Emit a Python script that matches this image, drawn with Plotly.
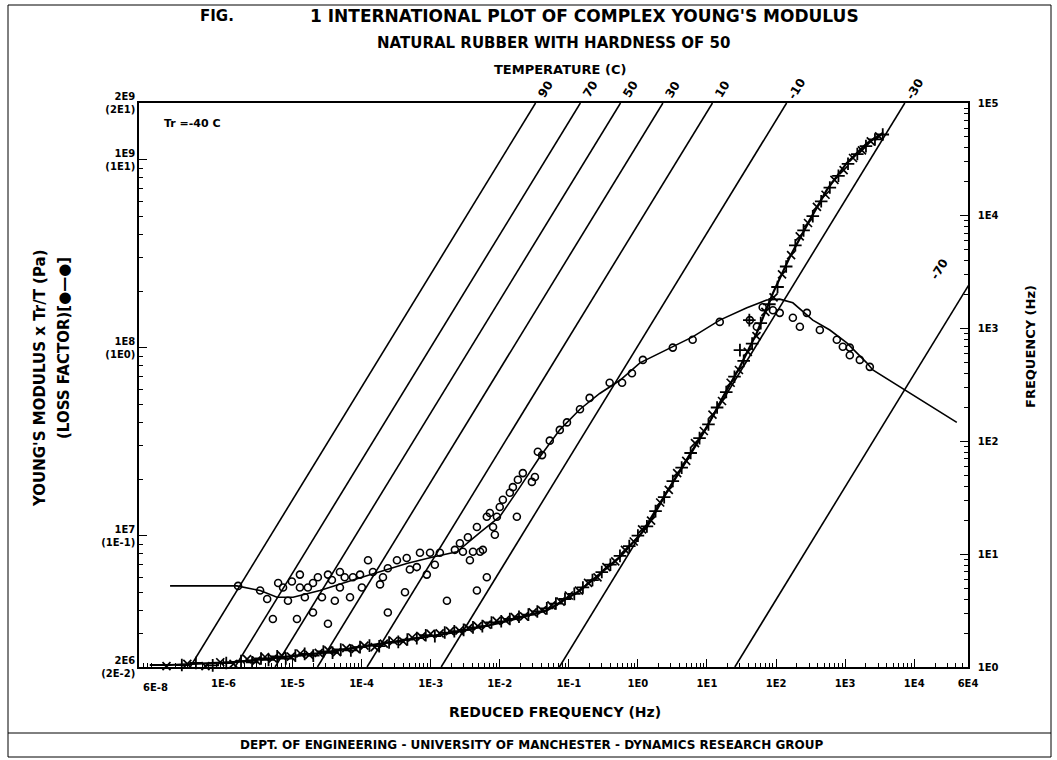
import numpy as np
import plotly.graph_objects as go

# ---------------- data ----------------
# isotherms of the nomogram: shift factor aT (reduced frequency at 1 Hz)
temp_labels = ["90", "70", "50", "30", "10", "-10", "-30", "-70"]
shift_aT = [3.3e-7, 1.47e-6, 5.6e-6, 2.3e-5, 1.2e-4, 1.42e-3, 7.3e-2, 25.3]
freq_limits = [1.0, 1.0e5]

# Young's modulus fitted curve
mod_fit_fr = [8.6e-8, 1.7e-7, 1.6e-6, 6.6e-6, 2.5e-5, 1.46e-4, 7.7e-4, 2.4e-3, 1.0e-2,
              4.8e-2, 0.145, 0.55, 1.35, 2.6, 5.1, 10, 17, 30, 52.7, 90, 158, 308, 543,
              1057, 2056, 3508]
mod_fit_E = [2.05e6, 2.05e6, 2.13e6, 2.26e6, 2.37e6, 2.62e6, 2.89e6, 3.07e6, 3.43e6,
             4.0e6, 5.1e6, 7.7e6, 1.11e7, 1.69e7, 2.52e7, 3.78e7, 5.46e7, 7.9e7, 1.2e8,
             1.95e8, 3.03e8, 4.78e8, 6.9e8, 9.6e8, 1.22e9, 1.38e9]

# Young's modulus measured points (first set, '+')
mod_pts_fr = [1.2e-7, 2.5e-7, 4e-7, 7e-7, 1.1e-6, 1.8e-6, 2.6e-6, 3.5e-6, 4.5e-6, 6e-6,
              8e-6, 1.1e-5, 1.5e-5, 2e-5, 2.8e-5, 3.8e-5, 5e-5, 7e-5, 9.5e-5, 1.3e-4,
              1.8e-4, 2.5e-4, 3.4e-4, 4.6e-4, 6.3e-4, 8.5e-4, 1.15e-3, 1.6e-3, 2.2e-3,
              3e-3, 4.1e-3, 5.6e-3, 7.6e-3, 1.05e-2, 1.4e-2, 1.9e-2, 2.6e-2, 3.5e-2,
              4.8e-2, 6.5e-2, 8.8e-2, 0.12, 0.16, 0.22, 0.3, 0.4, 0.55, 0.75, 1.0, 1.35,
              1.8, 2.4, 3.2, 4.3, 5.8, 7.8, 10.5, 14, 19, 25, 34, 45, 60, 80, 105, 140,
              190, 250, 340, 450, 600, 800, 1100, 1500, 2000, 2700, 3500, 41, 30]
mod_pts_E = [2.0e6, 2.05e6, 2.1e6, 2.04e6, 2.1e6, 2.15e6, 2.12e6, 2.22e6, 2.18e6, 2.28e6,
             2.22e6, 2.3e6, 2.35e6, 2.3e6, 2.42e6, 2.38e6, 2.48e6, 2.45e6, 2.55e6, 2.6e6,
             2.58e6, 2.7e6, 2.72e6, 2.8e6, 2.85e6, 2.95e6, 2.92e6, 3.05e6, 3.1e6,
             3.15e6, 3.25e6, 3.3e6, 3.45e6, 3.5e6, 3.6e6, 3.7e6, 3.8e6, 3.95e6,
             4.1e6, 4.35e6, 4.6e6, 4.9e6, 5.3e6, 5.8e6, 6.4e6, 7.0e6, 7.8e6, 8.8e6, 1.0e7,
             1.12e7, 1.35e7, 1.6e7, 1.95e7, 2.3e7, 2.75e7, 3.3e7, 3.9e7, 4.8e7, 5.8e7,
             7.0e7, 8.5e7, 1.05e8, 1.35e8, 1.7e8, 2.1e8, 2.7e8, 3.5e8, 4.2e8, 5.0e8, 6.0e8,
             7.1e8, 8.2e8, 9.5e8, 1.07e9, 1.18e9, 1.28e9, 1.36e9, 1.4e8, 9.7e7]

# Young's modulus measured points (second set, 'x')
mod_pts2_fr = [1.5e-7, 3e-7, 5.5e-7, 9e-7, 1.4e-6, 2.2e-6, 3e-6, 4e-6, 5.2e-6, 7e-6,
               9.5e-6, 1.3e-5, 1.75e-5, 2.4e-5, 3.3e-5, 4.4e-5, 6e-5, 8.2e-5, 1.1e-4,
               1.55e-4, 2.1e-4, 2.9e-4, 4e-4, 5.4e-4, 7.3e-4, 1.0e-3, 1.35e-3, 1.9e-3,
               2.6e-3, 3.5e-3, 4.8e-3, 6.5e-3, 9e-3, 1.2e-2, 1.65e-2, 2.25e-2, 3e-2,
               4.1e-2, 5.6e-2, 7.6e-2, 0.1, 0.14, 0.19, 0.26, 0.35, 0.47, 0.65, 0.87,
               1.15, 1.55, 2.1, 2.8, 3.7, 5, 6.7, 9, 12, 16.5, 22, 29, 39, 52, 70, 92,
               122, 165, 220, 290, 390, 520, 700, 950, 1300, 1750, 2350, 3100]
mod_pts2_E = [2.02e6, 2.08e6, 2.02e6, 2.12e6, 2.08e6, 2.2e6, 2.16e6, 2.26e6, 2.22e6,
              2.3e6, 2.27e6, 2.36e6, 2.32e6, 2.38e6, 2.45e6, 2.4e6, 2.52e6, 2.5e6, 2.6e6,
              2.55e6, 2.66e6, 2.75e6, 2.74e6, 2.87e6, 2.9e6, 3.0e6, 3.02e6, 3.1e6,
              3.12e6, 3.22e6, 3.3e6, 3.36e6, 3.52e6, 3.55e6, 3.68e6, 3.72e6, 3.9e6,
              4.0e6, 4.25e6, 4.45e6, 4.8e6, 5.1e6, 5.6e6, 6.0e6, 6.8e6, 7.3e6, 8.4e6,
              9.3e6, 1.08e7, 1.2e7, 1.5e7, 1.75e7, 2.15e7, 2.5e7, 3.1e7, 3.6e7, 4.4e7,
              5.2e7, 6.5e7, 7.6e7, 9.5e7, 1.15e8, 1.55e8, 1.85e8, 2.45e8, 3.1e8, 3.9e8,
              4.6e8, 5.6e8, 6.5e8, 7.8e8, 8.8e8, 1.02e9, 1.12e9, 1.25e9, 1.33e9]

# loss factor fitted curve
loss_fit_fr = [1.69e-7, 1.57e-6, 3.4e-6, 5.96e-6, 1.02e-5, 2.49e-5, 7.5e-5, 1.85e-4,
               4.5e-4, 1.08e-3, 2.4e-3, 5.2e-3, 1.0e-2, 1.96e-2, 3.8e-2, 7.4e-2, 0.145,
               0.28, 0.55, 1.07, 2.6, 6.2, 15.3, 37.8, 73, 113, 175, 340, 600, 1057, 2056,
               2512, 41300]
loss_fit_eta = [0.054, 0.054, 0.051, 0.047, 0.047, 0.051, 0.058, 0.064, 0.071, 0.077,
                0.082, 0.104, 0.126, 0.181, 0.262, 0.365, 0.47, 0.57, 0.67, 0.83, 0.97,
                1.14, 1.40, 1.63, 1.79, 1.81, 1.73, 1.40, 1.24, 1.06, 0.83, 0.76, 0.40]

# loss factor measured points
loss_pts_fr = [1.63e-6, 3.4e-6, 4.3e-6, 5.2e-6, 6.2e-6, 7.3e-6, 8.6e-6, 9.8e-6, 1.16e-5,
               1.28e-5, 1.28e-5, 1.51e-5, 1.67e-5, 1.98e-5, 1.98e-5, 2.33e-5, 2.67e-5,
               3.26e-5, 3.26e-5, 3.72e-5, 4.1e-5, 4.86e-5, 4.86e-5, 5.7e-5, 6.8e-5, 7.5e-5,
               9.5e-5, 1.01e-4, 1.24e-4, 1.46e-4, 1.85e-4, 2.04e-4, 2.4e-4, 2.4e-4, 3.25e-4,
               4.25e-4, 4.5e-4, 5.0e-4, 6.3e-4, 7.0e-4, 8.8e-4, 9.8e-4, 1.15e-3, 1.36e-3,
               1.72e-3, 2.24e-3, 2.65e-3, 2.93e-3, 3.46e-3, 3.7e-3, 4.1e-3, 4.67e-3,
               4.67e-3, 5.2e-3, 6.5e-3, 6.5e-3, 7.2e-3, 8.5e-3, 9.1e-3, 8.0e-3, 5.7e-3,
               0.01, 0.0111, 0.014, 0.0155, 0.0177, 0.0183, 0.0216, 0.0292, 0.0323, 0.0356,
               0.041, 0.053, 0.074, 0.094, 0.145, 0.20, 0.39, 0.59, 0.82, 1.18, 3.2, 6.2,
               15.3, 41.7, 52.7, 64, 90, 113, 175, 221, 279, 430, 757, 925, 1167, 1167,
               1630, 2275]
loss_pts_eta = [0.054, 0.051, 0.046, 0.036, 0.056, 0.053, 0.045, 0.057, 0.036, 0.062,
                0.053, 0.047, 0.053, 0.056, 0.039, 0.060, 0.047, 0.034, 0.062, 0.058,
                0.045, 0.064, 0.053, 0.060, 0.047, 0.060, 0.062, 0.053, 0.074, 0.064,
                0.055, 0.060, 0.067, 0.039, 0.074, 0.050, 0.076, 0.066, 0.068, 0.081,
                0.062, 0.081, 0.070, 0.081, 0.045, 0.084, 0.091, 0.082, 0.098, 0.074,
                0.082, 0.051, 0.111, 0.082, 0.060, 0.126, 0.132, 0.101, 0.126, 0.111,
                0.084, 0.142, 0.155, 0.169, 0.181, 0.126, 0.198, 0.215, 0.193, 0.205,
                0.279, 0.268, 0.32, 0.365, 0.40, 0.47, 0.54, 0.65, 0.65, 0.73, 0.86, 1.00,
                1.10, 1.37, 1.40, 1.29, 1.64, 1.58, 1.53, 1.44, 1.29, 1.53, 1.24, 1.10,
                1.01, 1.00, 0.91, 0.86, 0.79]

x_tickvals = [6e-8, 1e-6, 1e-5, 1e-4, 1e-3, 1e-2, 1e-1, 1, 10, 100, 1e3, 1e4, 6e4]
x_ticktext = ["", "1E-6", "1E-5", "1E-4", "1E-3", "1E-2", "1E-1", "1E0", "1E1",
              "1E2", "1E3", "1E4", "6E4"]
x_first_label = "6E-8"
y_tickvals = [2e6, 1e7, 1e8, 1e9, 2e9]
y_ticktext = ["<b>2E6<br>(2E-2)</b>", "<b>1E7<br>(1E-1)</b>", "<b>1E8<br>(1E0)</b>",
              "<b>1E9<br>(1E1)</b>", "<b>2E9<br>(2E1)</b>"]
f_tickvals = [1, 10, 100, 1e3, 1e4, 1e5]
f_ticktext = ["1E0", "1E1", "1E2", "1E3", "1E4", "1E5"]

# ---------------- layout geometry ----------------
W, H = 1057, 760
L, R, T, B = 139, 968, 103, 667
FONT = "DejaVu Sans"


def px(x):
    return (x - L) / (R - L)


def py(y):
    return (B - y) / (B - T)


def minor_vals(lo, hi):
    out = []
    for e in range(int(np.floor(np.log10(lo))) - 1, int(np.ceil(np.log10(hi))) + 1):
        for k in range(2, 10):
            v = k * 10.0 ** e
            if lo < v < hi:
                out.append(v)
    return out


fig = go.Figure()

# isotherm lines (x = reduced frequency, y2 = frequency)
for lab, a in zip(temp_labels, shift_aT):
    fig.add_trace(go.Scatter(
        x=[a * f for f in freq_limits], y=freq_limits, yaxis="y2", mode="lines",
        line=dict(color="black", width=1.6), hoverinfo="skip", showlegend=False))

# modulus
fig.add_trace(go.Scatter(x=mod_fit_fr, y=mod_fit_E, mode="lines",
                         line=dict(color="black", width=2.2), showlegend=False))
fig.add_trace(go.Scatter(x=mod_pts_fr, y=mod_pts_E, mode="markers", cliponaxis=False,
                         marker=dict(symbol="cross-thin", size=9, color="black",
                                     line=dict(color="black", width=1.8)),
                         showlegend=False))
fig.add_trace(go.Scatter(x=mod_pts2_fr, y=mod_pts2_E, mode="markers", cliponaxis=False,
                         marker=dict(symbol="x-thin", size=8, color="black",
                                     line=dict(color="black", width=1.7)),
                         showlegend=False))

# loss factor
fig.add_trace(go.Scatter(x=loss_fit_fr, y=loss_fit_eta, yaxis="y3", mode="lines",
                         line=dict(color="black", width=1.6), showlegend=False))
fig.add_trace(go.Scatter(x=loss_pts_fr, y=loss_pts_eta, yaxis="y3", mode="markers",
                         marker=dict(symbol="circle-open", size=7, color="black",
                                     line=dict(color="black", width=1.6)),
                         showlegend=False))

axis_font = dict(family=FONT, size=10, color="black")
xr = [np.log10(6e-8), np.log10(6e4)]
yr = [np.log10(2e6), np.log10(2e9)]

fig.update_layout(
    width=W, height=H, margin=dict(l=L, r=W - R, t=T, b=H - B),
    paper_bgcolor="white", plot_bgcolor="white", showlegend=False,
    xaxis=dict(type="log", range=xr, tickmode="array", tickvals=x_tickvals,
               ticktext=["<b>%s</b>" % t if t else "" for t in x_ticktext],
               ticks="inside", ticklen=8, tickwidth=1.2, ticklabelstandoff=6,
               tickcolor="black", showgrid=False, zeroline=False, showline=True,
               linecolor="black", linewidth=1.5, mirror=True, tickfont=axis_font,
               minor=dict(tickmode="array", tickvals=minor_vals(6e-8, 6e4),
                          ticks="inside", ticklen=4, tickcolor="black", showgrid=False)),
    yaxis=dict(type="log", range=yr, tickmode="array", tickvals=y_tickvals,
               ticktext=y_ticktext, ticks="inside", ticklen=8, tickwidth=1.2,
               tickcolor="black", showgrid=False, zeroline=False, showline=True,
               linecolor="black", linewidth=1.5, tickfont=axis_font,
               minor=dict(tickmode="array", tickvals=minor_vals(2e6, 2e9),
                          ticks="inside", ticklen=4, tickcolor="black", showgrid=False)),
    yaxis2=dict(type="log", range=[0, 5], overlaying="y", side="right", anchor="x",
                tickmode="array", tickvals=f_tickvals,
                ticktext=["<b>%s</b>" % t for t in f_ticktext],
                ticks="inside", ticklen=8, tickwidth=1.2, tickcolor="black",
                showgrid=False, zeroline=False, showline=True, linecolor="black",
                linewidth=1.5, tickfont=axis_font, ticklabelstandoff=6,
                minor=dict(tickmode="array", tickvals=minor_vals(1, 1e5),
                           ticks="inside", ticklen=4, tickcolor="black", showgrid=False)),
    yaxis3=dict(type="log", range=[np.log10(0.02), np.log10(20)], overlaying="y",
                visible=False),
)

ann = []


def text(x, y, s, size=12, angle=0, xanchor="center", yanchor="middle", xref="paper",
         yref="paper"):
    ann.append(dict(x=x, y=y, xref=xref, yref=yref, text="<b>%s</b>" % s,
                    showarrow=False, textangle=angle, xanchor=xanchor, yanchor=yanchor,
                    font=dict(family=FONT, size=size, color="black")))


text(px(217), py(16), "FIG.", 15)
text(px(584), py(16), "1 INTERNATIONAL PLOT OF COMPLEX YOUNG'S MODULUS", 17)
text(px(553), py(43), "NATURAL RUBBER WITH HARDNESS OF 50", 15)
text(px(560), py(70), "TEMPERATURE (C)", 13)
text(px(555), py(712), "REDUCED FREQUENCY (Hz)", 14)
text(px(531), py(745), "DEPT. OF ENGINEERING - UNIVERSITY OF MANCHESTER - DYNAMICS RESEARCH GROUP", 12)
text(px(40), py(378), "YOUNG'S MODULUS x Tr/T (Pa)", 15, angle=-90)
text(px(64), py(348), "(LOSS FACTOR)[\u25cf\u2014\u25cf]", 15, angle=-90)
text(px(1030), py(347), "FREQUENCY (Hz)", 13, angle=-90)
text(px(162), py(123), "Tr =-40 C", 11, xanchor="left")
text(px(141), py(687), x_first_label, 10, xanchor="left")

# isotherm temperature labels
for lab, a in zip(temp_labels[:-1], shift_aT[:-1]):
    ann.append(dict(x=np.log10(a * freq_limits[1] * 1.4), y=py(T - 14), xref="x",
                    yref="paper", text="<b>%s</b>" % lab, showarrow=False,
                    textangle=-58.5, xanchor="center", yanchor="middle",
                    font=dict(family=FONT, size=12, color="black")))
ann.append(dict(x=np.log10(2.3e4), y=np.log10(3400), xref="x", yref="y2",
                text="<b>%s</b>" % temp_labels[-1], showarrow=False, textangle=-58.5,
                xanchor="center", yanchor="middle",
                font=dict(family=FONT, size=12, color="black")))
fig.update_layout(annotations=ann)

# page frame and footer rule
fig.add_shape(type="rect", xref="paper", yref="paper", x0=px(8), x1=px(1051),
              y0=py(757), y1=py(5), line=dict(color="black", width=1))
fig.add_shape(type="line", xref="paper", yref="paper", x0=px(8), x1=px(1051),
              y0=py(733), y1=py(733), line=dict(color="black", width=1))

fig.write_html("out.html")
